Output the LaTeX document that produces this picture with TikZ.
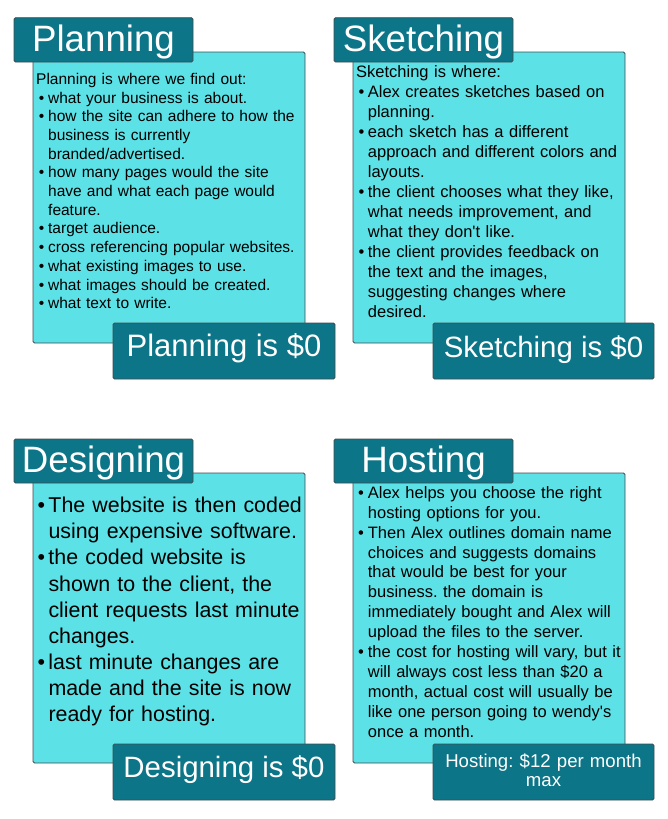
\documentclass[tikz,border=0pt]{standalone}
\usepackage{fontspec}
\setmainfont{Liberation Sans}
\definecolor{teal1}{HTML}{0C7587}
\definecolor{cyan1}{HTML}{5CE1E6}
\definecolor{edge1}{HTML}{3E4C52}
\newcommand\bu[2]{\hspace*{#1}\makebox[#2][l]{\textbullet}}
\newcommand\cn[1]{\hspace*{#1}}
\frenchspacing
\tikzset{
  card/.style={draw=edge1, fill=cyan1, line width=0.9pt, rounded corners=1.5pt},
  tab/.style={draw=edge1, fill=teal1, line width=0.9pt, rounded corners=1.5pt},
  tabtxt/.style={text=white, inner sep=0pt, anchor=base, font=\fontsize{36.7}{40}\selectfont},
  pricetxt/.style={text=white, inner sep=0pt, anchor=base},
  body/.style={inner sep=0pt, anchor=base west, text width=300pt, align=left, text=black}
}
\begin{document}
\begin{tikzpicture}[x=1pt,y=-1pt]
\useasboundingbox (0,0) rectangle (667,819);
% ---------- Planning ----------
\draw[card] (33,52) rectangle (305,343);
\draw[tab] (14,17.7) rectangle (193,62);
\node[tabtxt] (tplan) at (103.5,51.3) {Planning};
\node[body, font=\fontsize{15.5}{18.7}\selectfont\frenchspacing] (bplan) at (36,84.3) {%
Planning is where we find out:\\
\bu{2.7pt}{9.3pt}what your business is about.\\
\bu{2.7pt}{9.3pt}how the site can adhere to how the\\
\cn{12pt}business is currently\\
\cn{12pt}branded/advertised.\\
\bu{2.7pt}{9.3pt}how many pages would the site\\
\cn{12pt}have and what each page would\\
\cn{12pt}feature.\\
\bu{2.7pt}{9.3pt}target audience.\\
\bu{2.7pt}{9.3pt}cross referencing popular websites.\\
\bu{2.7pt}{9.3pt}what existing images to use.\\
\bu{2.7pt}{9.3pt}what images should be created.\\
\bu{2.7pt}{9.3pt}what text to write.};
\draw[tab] (113,323) rectangle (335,379);
\node[pricetxt, font=\fontsize{31}{34}\selectfont] (pplan) at (224,356.7) {Planning is \$0};
% ---------- Sketching ----------
\draw[card] (353,52) rectangle (625,343);
\draw[tab] (334,17.7) rectangle (513,62);
\node[tabtxt] (tsketch) at (423.5,51.3) {Sketching};
\node[body, font=\fontsize{16.5}{20}\selectfont\frenchspacing] (bsketch) at (356,77.3) {%
Sketching is where:\\
\bu{2.5pt}{9.2pt}Alex creates sketches based on\\
\cn{11.7pt}planning.\\
\bu{2.5pt}{9.2pt}each sketch has a different\\
\cn{11.7pt}approach and different colors and\\
\cn{11.7pt}layouts.\\
\bu{2.5pt}{9.2pt}the client chooses what they like,\\
\cn{11.7pt}what needs improvement, and\\
\cn{11.7pt}what they don\textquotesingle t like.\\
\bu{2.5pt}{9.2pt}the client provides feedback on\\
\cn{11.7pt}the text and the images,\\
\cn{11.7pt}suggesting changes where\\
\cn{11.7pt}desired.};
\draw[tab] (433,323) rectangle (654,379);
\node[pricetxt, font=\fontsize{29.4}{32}\selectfont] (psketch) at (543.5,357.3) {Sketching is \$0};
% ---------- Designing ----------
\draw[card] (33,473) rectangle (305,763);
\draw[tab] (14,439) rectangle (193,483);
\node[tabtxt] (tdesign) at (103.5,472) {Designing};
\node[body, font=\fontsize{21.4}{26.1}\selectfont\frenchspacing] (bdesign) at (37.5,512.7) {%
\makebox[10.8pt][l]{\textbullet}The website is then coded\\
\cn{10.8pt}using expensive software.\\
\makebox[10.8pt][l]{\textbullet}the coded website is\\
\cn{10.8pt}shown to the client, the\\
\cn{10.8pt}client requests last minute\\
\cn{10.8pt}changes.\\
\makebox[10.8pt][l]{\textbullet}last minute changes are\\
\cn{10.8pt}made and the site is now\\
\cn{10.8pt}ready for hosting.};
\draw[tab] (113,744) rectangle (335,800);
\node[pricetxt, font=\fontsize{29.4}{32}\selectfont] (pdesign) at (224,777.7) {Designing is \$0};
% ---------- Hosting ----------
\draw[card] (353,473) rectangle (625,763);
\draw[tab] (334,439) rectangle (513,483);
\node[tabtxt] (thost) at (423.5,472.5) {Hosting};
\node[body, font=\fontsize{16.5}{19.9}\selectfont\frenchspacing] (bhost) at (358,498.3) {%
\makebox[9.7pt][l]{\textbullet}Alex helps you choose the right\\
\cn{9.7pt}hosting options for you.\\
\makebox[9.7pt][l]{\textbullet}Then Alex outlines domain name\\
\cn{9.7pt}choices and suggests domains\\
\cn{9.7pt}that would be best for your\\
\cn{9.7pt}business. the domain is\\
\cn{9.7pt}immediately bought and Alex will\\
\cn{9.7pt}upload the files to the server.\\
\makebox[9.7pt][l]{\textbullet}the cost for hosting will vary, but it\\
\cn{9.7pt}will always cost less than \$20 a\\
\cn{9.7pt}month, actual cost will usually be\\
\cn{9.7pt}like one person going to wendy\textquotesingle s\\
\cn{9.7pt}once a month.};
\draw[tab] (433,744) rectangle (654,800);
\node[pricetxt, text width=220pt, align=center, font=\fontsize{18.6}{19}\selectfont\frenchspacing] (phost) at (543.5,767.7) {Hosting: \$12 per month\\max};
\end{tikzpicture}
\end{document}
